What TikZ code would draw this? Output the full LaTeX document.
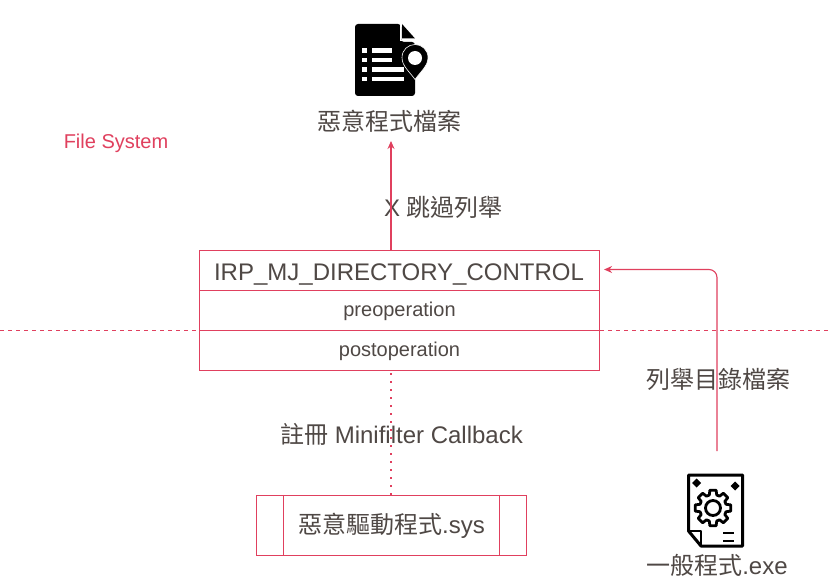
\documentclass[tikz,border=0pt]{standalone}
\usepackage{fontspec}
\setmainfont{Liberation Sans}
\newfontfamily\cjk{Noto Sans CJK TC}
\definecolor{rd}{HTML}{E0405E}
\definecolor{tx}{HTML}{4F4845}
\newcommand{\ck}[1]{{\cjk #1}}
\usetikzlibrary{arrows.meta}
\tikzset{
 lbl/.style={text=tx,inner sep=0pt,font=\fontsize{24}{26}\selectfont},
 smalllbl/.style={text=tx,inner sep=0pt,font=\fontsize{20}{24}\selectfont},
 box/.style={draw=rd,line width=1.1pt,inner sep=0pt,text=tx},
 conn/.style={draw=rd,line width=1.1pt,-{Stealth[length=8pt,width=7pt]}},
}
\begin{document}
\begin{tikzpicture}[x=1pt,y=-1pt]
\useasboundingbox (0,0) rectangle (832,580);
\fill[white] (0,0) rectangle (832,580);
% separator
\coordinate (sepL) at (0,330.5);
\coordinate (sepR) at (832,330.5);
\draw[rd,line width=1.1pt,dash pattern=on 4pt off 4pt] (sepL) -- (sepR);
% boxes
\node[box,minimum width=400pt,minimum height=40pt] (irp) at (399.5,270.5) {};
\node[lbl] (irpt) at (399,275) {IRP\_MJ\_DIRECTORY\_CONTROL};
\node[box,minimum width=400pt,minimum height=40pt] (pre) at (399.5,310.5) {};
\node[smalllbl] (pret) at (399.5,311.5) {preoperation};
\node[box,minimum width=400pt,minimum height=40pt] (post) at (399.5,350.5) {};
\node[smalllbl] (postt) at (399.5,351.5) {postoperation};
\node[box,minimum width=270pt,minimum height=60pt,lbl] (sys) at (391.5,525.5) {\ck{惡意驅動程式}.sys};
\draw[rd,line width=1.1pt] ([xshift=27.5pt]sys.north west) -- ([xshift=27.5pt]sys.south west);
\draw[rd,line width=1.1pt] ([xshift=-27.5pt]sys.north east) -- ([xshift=-27.5pt]sys.south east);
% labels
\node[lbl] (mal) at (389,121.5) {\ck{惡意程式檔案}};
\node[text=rd,inner sep=0pt,font=\fontsize{20}{24}\selectfont] (fs) at (116,143) {File System};
\node[lbl] (skip) at (443.5,207) {X \ck{跳過列舉}};
\node[lbl] (reg) at (401.5,434.5) {\ck{註冊} Minifilter Callback};
\node[lbl] (enum) at (718,379.5) {\ck{列舉目錄檔案}};
\node[lbl] (exe) at (717,565) {\ck{一般程式}.exe};
% connectors
\coordinate (malIn) at (391,141);
\draw[conn] (irp.north -| malIn) -- (malIn);
\coordinate (dotX) at (391,373);
\draw[rd,line width=2.2pt,dash pattern=on 2pt off 6pt] (sys.north -| dotX) -- (post.south -| dotX);
\coordinate (exeOut) at (717,451);
\coordinate (irpIn) at ([xshift=4pt,yshift=1pt]irp.east);
\draw[conn,rounded corners=8pt] (exeOut) -- (exeOut |- irpIn) -- (irpIn);
% document icon
\begin{scope}
\fill[black,rounded corners=3pt] (355,24) -- (401,24) -- (401,42) -- (415,42) -- (415,96) -- (355,96) -- cycle;
\fill[black] (402,24) -- (415,38.5) -- (402,38.5) -- cycle;
\draw[white,line width=.8pt] (400,24) -- (400,40) -- (415,40);
\foreach \yy in {48.5,58,67.5,77}{\fill[white] (362,\yy) rectangle (367,\yy+4.5);}
\foreach \yy in {48.5,58}{\fill[white] (372,\yy) rectangle (391.5,\yy+4.5);}
\foreach \yy in {67.5,77}{\fill[white] (372,\yy) rectangle (404,\yy+4.5);}
\fill[black,draw=white,line width=.6pt] (415,79.5) .. controls (409,71) and (402,66) .. (402,57.5) .. controls (402,50) and (408,44.5) .. (415,44.5) .. controls (422,44.5) and (428,50) .. (428,57.5) .. controls (428,66) and (421,71) .. (415,79.5) -- cycle;
\fill[white] (415,58) circle (7pt);
\end{scope}
% exe icon
\begin{scope}
\draw[black,line width=3pt,line join=round] (688.5,475) -- (742.5,475) -- (742.5,546) -- (701,546) -- (688.5,531) -- cycle;
\draw[black,line width=2.4pt,line join=round] (688.5,531) -- (701,531) -- (701,546);
\foreach \cx/\cy in {696.5/483,735/486}{\fill[black] (\cx-4.5,\cy) -- (\cx,\cy-4.5) -- (\cx+4.5,\cy) -- (\cx,\cy+4.5) -- cycle;}
\draw[black,line width=2.8pt,line join=round,shift={(713,508)}] (-16:13.5)
  \foreach \a in {0,45,...,315}{ -- (\a-16:13.5) -- (\a-10:18) -- (\a+10:18) -- (\a+16:13.5)} -- cycle;
\draw[black,line width=2.8pt] (713,508) circle (7.5pt);
\draw[black,line width=2.8pt] (723,533) -- (734,533);
\draw[black,line width=2.8pt] (723,541) -- (734,541);
\end{scope}
\end{tikzpicture}
\end{document}
